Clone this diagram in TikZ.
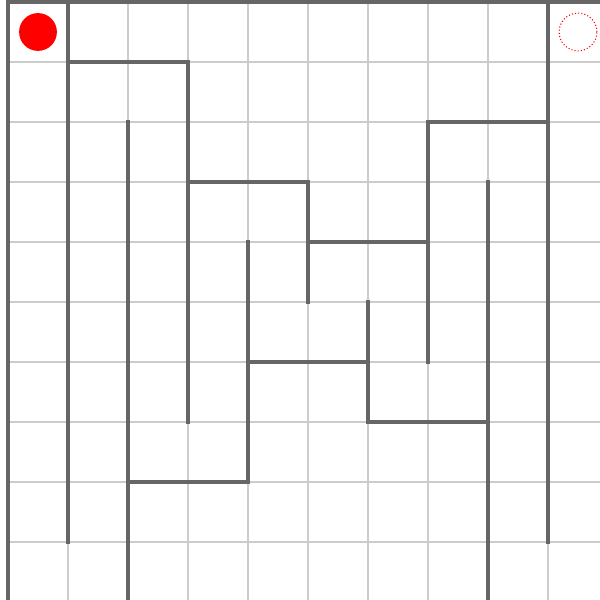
\documentclass[tikz,border=0pt]{standalone}
\usetikzlibrary{positioning}

\begin{document}
\begin{tikzpicture}[
  x=1cm, y=-1cm,
  cellline/.style={draw=black!20, line width=0.5pt},
  wall/.style={draw=black!60, line width=1.45pt, line cap=rect},
  token/.style={circle, minimum size=6.3mm, inner sep=0pt},
  startmark/.style={token, fill=red},
  goalmark/.style={token, draw=red, densely dotted, line width=0.5pt}
]
\useasboundingbox (-0.1333,-0.0333) rectangle (9.8667,9.9667);

% light cell grid
\foreach \k in {0,...,10} {
  \draw[cellline] (\k,0) -- (\k,10);
  \draw[cellline] (0,\k) -- (10,\k);
}

% outer border
\draw[wall] (10,0) -- (0,0) -- (0,10);

% vertical walls
\draw[wall] (1,0) -- (1,9);
\draw[wall] (2,2) -- (2,10);
\draw[wall] (3,1) -- (3,7);
\draw[wall] (4,4) -- (4,8);
\draw[wall] (5,3) -- (5,5);
\draw[wall] (6,5) -- (6,7);
\draw[wall] (7,2) -- (7,6);
\draw[wall] (8,3) -- (8,10);
\draw[wall] (9,0) -- (9,9);

% horizontal walls
\draw[wall] (1,1) -- (3,1);
\draw[wall] (7,2) -- (9,2);
\draw[wall] (3,3) -- (5,3);
\draw[wall] (5,4) -- (7,4);
\draw[wall] (4,6) -- (6,6);
\draw[wall] (6,7) -- (8,7);
\draw[wall] (2,8) -- (4,8);

% start and goal
\node[startmark] (start) at (0.5,0.5) {};
\node[goalmark] (goal) at (9.5,0.5) {};
\end{tikzpicture}
\end{document}
